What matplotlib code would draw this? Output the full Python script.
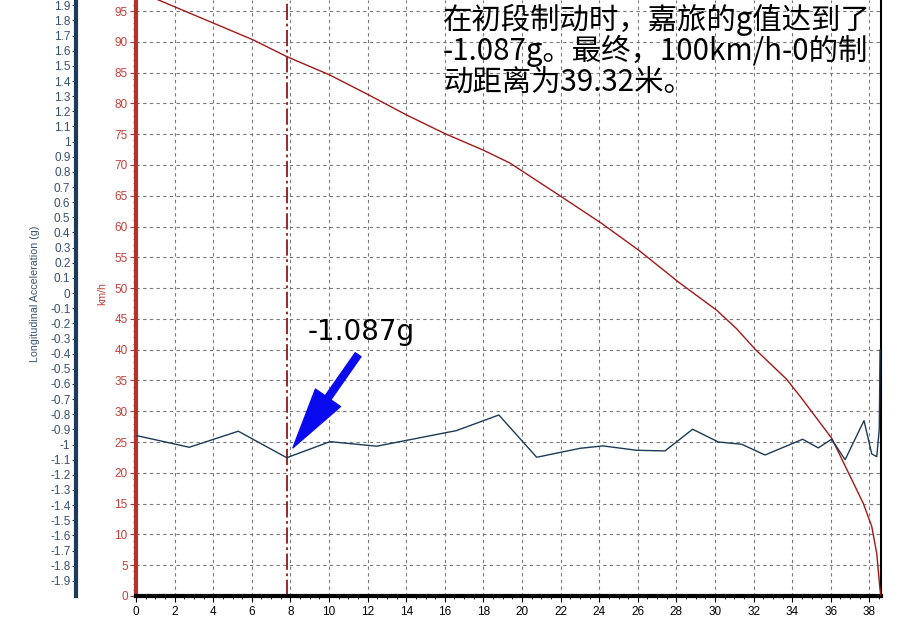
import matplotlib.pyplot as plt
from matplotlib.ticker import MultipleLocator, FuncFormatter

# braking distance (m) vs speed (km/h)
dist_v = [0.0, 1.16, 6.08, 7.81, 10.05, 12.04, 14.03, 16.0, 18.0, 19.38, 22.06, 24.13,
          26.07, 28.1, 30.09, 31.12, 32.07, 33.71, 34.49, 36.05, 37.68, 38.12, 38.38,
          38.55, 38.6]
speed = [98.3, 96.8, 90.3, 87.6, 84.6, 81.4, 78.1, 75.1, 72.4, 70.3, 64.8, 60.5,
         56.1, 51.0, 46.4, 43.4, 40.1, 35.2, 32.1, 25.6, 15.05, 11.3, 6.9,
         1.0, 0.0]

# longitudinal acceleration (g) vs distance
dist_g = [0.03, 2.76, 5.30, 7.81, 10.05, 12.47, 16.6, 18.8, 20.76, 23.0, 24.2, 25.94,
          27.41, 28.84, 30.17, 31.38, 32.59, 34.54, 35.35, 36.04, 36.74, 37.72, 38.12,
          38.38, 38.51, 38.55]
acc_g = [-0.941, -1.018, -0.912, -1.087, -0.981, -1.011, -0.908, -0.805, -1.084, -1.025,
         -1.009, -1.038, -1.042, -0.899, -0.983, -0.998, -1.069, -0.965, -1.022, -0.965,
         -1.10, -0.842, -1.062, -1.08, -0.899, -0.376]

peak_x = 7.81
peak_g = -1.087
peak_label = '-1.087g'
note_lines = ['在初段制动时，嘉旅的g值达到了',
              '-1.087g。最终，100km/h-0的制',
              '动距离为39.32米。']

tick_font = 'Liberation Sans'
red_dark = '#a01818'
red_axis = '#b5322a'
red_text = '#c0403a'
navy = '#1b3b58'
navy_text = '#35526e'

W, H = 908, 621
fig = plt.figure(figsize=(W / 100, H / 100), dpi=100)
ax = fig.add_axes([136 / W, 25 / H, 745 / W, 596 / H])

ax.plot(dist_v, speed, color=red_dark, lw=1.0, zorder=3)
ax.set_xlim(0, 38.6)
ax.set_ylim(0, 96.79)
ax.xaxis.set_major_locator(MultipleLocator(2))
ax.xaxis.set_minor_locator(MultipleLocator(0.5))
ax.yaxis.set_major_locator(MultipleLocator(5))
ax.yaxis.set_minor_locator(MultipleLocator(1))
ax.grid(True, which='major', color='#7a7a7a', ls=(0, (3, 3)), lw=0.8)
ax.set_axisbelow(True)

ax.spines['top'].set_visible(False)
ax.spines['left'].set_color(red_axis)
ax.spines['left'].set_linewidth(3)
ax.spines['bottom'].set_color('black')
ax.spines['bottom'].set_linewidth(3)
ax.spines['right'].set_color('black')
ax.spines['right'].set_linewidth(1.5)

ax.tick_params(axis='y', which='major', colors=red_axis, labelcolor=red_text, length=4, labelsize=8.5, pad=2)
ax.tick_params(axis='y', which='minor', colors=red_axis, length=2)
ax.tick_params(axis='x', which='major', colors='black', length=4, labelsize=8.5, pad=3)
ax.tick_params(axis='x', which='minor', colors='black', length=2)
for lab in ax.get_xticklabels() + ax.get_yticklabels():
    lab.set_fontfamily(tick_font)
ax.set_ylabel('km/h', color=red_text, fontsize=7.6, fontfamily=tick_font)
ax.yaxis.set_label_coords((107 - 136) / 745, (596 - 294) / 596)

# acceleration axis, offset to the left
ax2 = ax.twinx()
ax2.plot(dist_g, acc_g, color=navy, lw=1.0, zorder=4)
ax2.set_ylim(-2.0, 1.935)
ax2.yaxis.set_ticks_position('left')
ax2.yaxis.set_label_position('left')
ax2.spines['left'].set_position(('axes', -60 / 745))
ax2.spines['left'].set_visible(True)
ax2.spines['left'].set_color(navy)
ax2.spines['left'].set_linewidth(3)
ax2.spines['right'].set_visible(False)
ax2.spines['top'].set_visible(False)
ax2.spines['bottom'].set_visible(False)
ticks = [round(-1.9 + 0.1 * i, 1) for i in range(39)]
ax2.set_yticks(ticks)
ax2.yaxis.set_major_formatter(FuncFormatter(lambda v, p: '%g' % round(v, 1)))
ax2.yaxis.set_minor_locator(MultipleLocator(0.02))
ax2.tick_params(axis='y', which='major', colors=navy, labelcolor=navy_text, length=3, labelsize=8.5, pad=1)
ax2.tick_params(axis='y', which='minor', colors=navy, length=1.5)
for lab in ax2.get_yticklabels():
    lab.set_fontfamily(tick_font)
ax2.set_ylabel('Longitudinal Acceleration (g)', color=navy_text, fontsize=7.7, fontfamily=tick_font)
ax2.yaxis.set_label_coords((40 - 136) / 745, (596 - 294) / 596)

# marker line at the peak deceleration
ax.axvline(peak_x, color='#8b1a1a', lw=1.3, ls=(0, (9, 2, 1.5, 2)), zorder=2)

# arrow and label
ax2.annotate('', xy=(peak_x + 0.32, peak_g + 0.065), xytext=(peak_x + 3.7, peak_g + 0.68),
             arrowprops=dict(arrowstyle='simple,head_length=4.4,head_width=2.2,tail_width=0.5',
                             color='#0a0aee', shrinkA=0, shrinkB=0, mutation_scale=10), zorder=6)
ax2.text(peak_x + 3.87, peak_g + 0.83, peak_label, fontsize=20, fontfamily='DejaVu Sans',
         ha='center', va='center', color='black', zorder=6)

# note text, one line at a time
for i, line in enumerate(note_lines):
    fig.text(443 / W, 1 - (28.5 + 31.2 * i) / H, line, fontsize=21.2,
             fontfamily=['Noto Sans CJK SC', 'DejaVu Sans'], fontweight='light',
             ha='left', va='baseline', color='black')

fig.savefig('out.png', dpi=100)
